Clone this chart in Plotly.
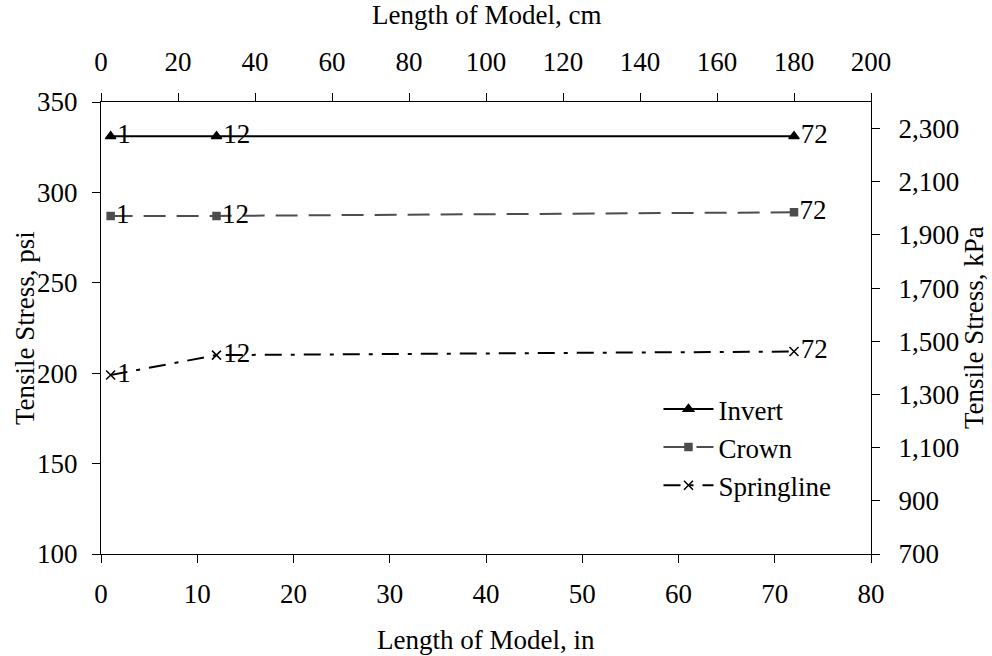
import plotly.graph_objects as go

# Model lengths (in) and measured tensile stresses (psi)
length_in = [1, 12, 72]
point_labels = ["1", "12", "72"]
invert_psi = [331, 331, 331]
crown_psi = [287, 287, 289]
springline_psi = [199, 210, 212]

# Secondary axis ticks
kpa_ticks = [700, 900, 1100, 1300, 1500, 1700, 1900, 2100, 2300]
cm_ticks = [0, 20, 40, 60, 80, 100, 120, 140, 160, 180, 200]

FONT = "Liberation Serif"
FS = 27

fig = go.Figure()

series = [
    ("Invert", invert_psi, "black", "solid", "triangle-up", 9),
    ("Crown", crown_psi, "#4d4d4d", "22px,11px", "square", 7),
    ("Springline", springline_psi, "black", "17px,9px,4px,9px", "x-thin", 9),
]
for name, vals, color, dash, sym, msize in series:
    fig.add_trace(go.Scatter(
        x=length_in, y=vals, name=name,
        mode="lines+markers+text",
        text=point_labels, textposition="middle right",
        textfont=dict(family=FONT, size=FS, color="black"),
        line=dict(color=color, width=2, dash=dash),
        marker=dict(symbol=sym, size=msize, color=color,
                    line=dict(color=color, width=1.5)),
    ))

# Same data in metric units drives the top and right axes (not drawn)
fig.add_trace(go.Scatter(
    x=[v * 2.54 for v in length_in],
    y=[v * 6.895 for v in invert_psi],
    xaxis="x2", yaxis="y2", mode="markers",
    marker=dict(opacity=0), showlegend=False, hoverinfo="skip",
))

axis_common = dict(
    showgrid=False, zeroline=False, showline=True, linecolor="black",
    linewidth=1, ticks="outside", ticklen=8, tickcolor="black",
    tickfont=dict(family=FONT, size=FS, color="black"),
)

fig.update_layout(
    width=992, height=656,
    margin=dict(l=101, r=121, t=102, b=102),
    paper_bgcolor="white", plot_bgcolor="white",
    font=dict(family=FONT, size=FS, color="black"),
    xaxis=dict(range=[0, 80], dtick=10, tick0=0, ticklabelstandoff=8,
               **axis_common),
    yaxis=dict(range=[100, 350], dtick=50, tick0=100, ticklabelstandoff=9,
               **axis_common),
    xaxis2=dict(range=[0, 200], tickvals=cm_ticks, overlaying="x", side="top",
                anchor="y", ticklabelstandoff=11, **axis_common),
    yaxis2=dict(range=[700, 2400], tickvals=kpa_ticks, tickformat=",d",
                overlaying="y", side="right", anchor="x",
                ticklabelstandoff=13, **axis_common),
    legend=dict(x=0.724, y=0.374, xanchor="left", yanchor="top",
                bgcolor="rgba(0,0,0,0)", font=dict(family=FONT, size=FS),
                itemwidth=50),
    showlegend=True,
)

# Axis titles placed in pixel terms relative to the plot area
plot_h = 656 - 102 - 102
plot_w = 992 - 101 - 121
title_font = dict(family=FONT, size=FS, color="black")
fig.add_annotation(text="Length of Model, in", xref="paper", yref="paper",
                   x=0.5, y=-(640 - 554) / plot_h, xanchor="center",
                   yanchor="middle", showarrow=False, font=title_font)
fig.add_annotation(text="Length of Model, cm", xref="paper", yref="paper",
                   x=0.5, y=1 + (102 - 15) / plot_h, xanchor="center",
                   yanchor="middle", showarrow=False, font=title_font)
fig.add_annotation(text="Tensile Stress, psi", xref="paper", yref="paper",
                   x=-(101 - 25) / plot_w, y=0.5, textangle=-90,
                   xanchor="center", yanchor="middle",
                   showarrow=False, font=title_font)
fig.add_annotation(text="Tensile Stress, kPa", xref="paper", yref="paper",
                   x=1 + (974 - 871) / plot_w, y=0.5, textangle=-90,
                   xanchor="center", yanchor="middle",
                   showarrow=False, font=title_font)

fig.write_html("out.html")
